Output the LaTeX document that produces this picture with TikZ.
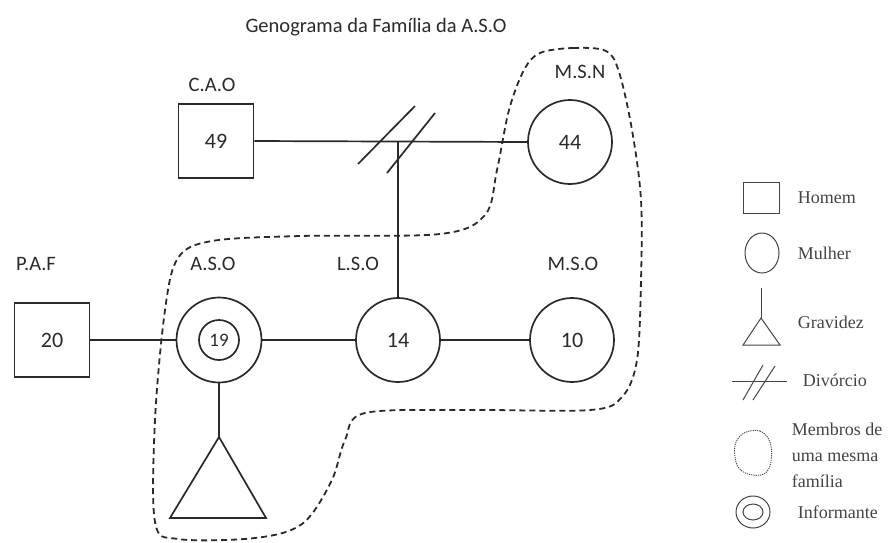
\documentclass[tikz,border=0pt]{standalone}
\usepackage{fontspec}
\setmainfont{Carlito}
\newfontfamily\legfont{Liberation Serif}
\usetikzlibrary{shapes.geometric}
\definecolor{ink}{HTML}{2A2A2A}
\definecolor{leg}{HTML}{444444}
\begin{document}
\begin{tikzpicture}[x=1pt,y=-1pt,line width=1.7pt,
  lbl/.style={text=ink,font=\fontsize{20.5}{24}\selectfont},
  num/.style={text=ink,font=\fontsize{22}{24}\selectfont},
  man/.style={draw=ink,line width=1.7pt,minimum width=75pt,minimum height=74pt,inner sep=0pt},
  woman/.style={circle,draw=ink,line width=1.7pt,minimum size=84pt,inner sep=0pt},
  conn/.style={draw=ink,line width=1.7pt},
  blob/.style={draw=ink,line width=1.8pt,dash pattern=on 6pt off 4pt},
  legtxt/.style={text=leg,font=\legfont\fontsize{18}{22}\selectfont,anchor=west,inner sep=0pt},
  legline/.style={draw=leg,line width=1pt}]
\useasboundingbox (0,0) rectangle (888,542);
% title
\node[lbl] (title) at (376,27) {Genograma da Família da A.S.O};
% top generation
\node[man,num] (cao) at (216,141) {49};
\node[woman,num] (msn) at (570,142) {44};
\node[lbl] (caol) at (212,85) {C.A.O};
\node[lbl] (msnl) at (580,72) {M.S.N};
\draw[conn] (cao.east) -- (msn.west);
\coordinate (div) at (398,142);
\coordinate (s1a) at (358,164); \coordinate (s1b) at (415,106);
\coordinate (s2a) at (387,173); \coordinate (s2b) at (435,113);
\draw[conn] (s1a) -- (s1b);
\draw[conn] (s2a) -- (s2b);
% second row
\node[man,num] (paf) at (52,340) {20};
\node[woman,minimum size=85pt] (aso) at (219,340) {};
\node[circle,draw=ink,line width=1.7pt,minimum size=40pt,inner sep=0pt,text=ink,font=\fontsize{19}{22}\selectfont] (asoi) at (219,340) {19};
\node[woman,num] (lso) at (398,340) {14};
\node[woman,num] (mso) at (572,340) {10};
\node[lbl] (pafl) at (36,264) {P.A.F};
\node[lbl] (asol) at (213,264) {A.S.O};
\node[lbl] (lsol) at (358,264) {L.S.O};
\node[lbl] (msol) at (573,264) {M.S.O};
\draw[conn] (div) -- (lso.north);
\draw[conn] (paf.east) -- (aso.west);
\draw[conn] (aso.east) -- (lso.west);
\draw[conn] (lso.east) -- (mso.west);
% pregnancy
\coordinate (apex) at (219,437);
\coordinate (tbl) at (170,518);
\coordinate (tbr) at (266,518);
\draw[conn] (aso.south) -- (apex);
\draw[conn,line join=miter] (apex) -- (tbl) -- (tbr) -- cycle;
% family boundary
\draw[blob] plot[smooth cycle,tension=0.55] coordinates {
 (540,53) (573,48) (606,51) (619,72) (632,130) (641,200) (641,280) (637,360)
 (622,397) (590,410) (470,410) (365,413) (345,440) (331,482) (302,524) (255,538)
 (178,539) (155,522) (155,420) (165,310) (178,258) (212,241) (300,236) (440,234)
 (485,215) (497,170) (509,110) (524,70)};
% legend
\node[draw=leg,line width=1pt,minimum width=36pt,minimum height=31pt,inner sep=0pt] (lhom) at (761,198) {};
\node[legtxt] (thom) at (797,198) {Homem};
\node[ellipse,draw=leg,line width=1pt,minimum width=34pt,minimum height=40pt,inner sep=0pt] (lmul) at (762,253) {};
\node[legtxt] (tmul) at (797,253) {Mulher};
\coordinate (gtop) at (761,288);
\coordinate (gapex) at (761,318);
\coordinate (gbl) at (743,345);
\coordinate (gbr) at (780,345);
\draw[legline] (gtop) -- (gapex);
\draw[legline,line join=miter] (gapex) -- (gbl) -- (gbr) -- cycle;
\node[legtxt] (tgra) at (797,322) {Gravidez};
\coordinate (dl) at (732,381); \coordinate (dr) at (787,381);
\coordinate (d1a) at (743,400); \coordinate (d1b) at (763,365);
\coordinate (d2a) at (753,400); \coordinate (d2b) at (775,366);
\draw[legline] (dl) -- (dr);
\draw[legline] (d1a) -- (d1b);
\draw[legline] (d2a) -- (d2b);
\node[legtxt] (tdiv) at (802,380) {Divórcio};
\draw[draw=leg,line width=0.9pt,dash pattern=on 1.2pt off 1pt] plot[smooth cycle,tension=0.6] coordinates {
 (744,433) (760,431) (770,442) (771,462) (764,474) (748,474) (737,465) (735,445)};
\node[legtxt,align=left,font=\legfont\fontsize{18}{26}\selectfont,anchor=north west] (tmem) at (791,422) {Membros de\\uma mesma\\família};
\node[ellipse,draw=leg,line width=1pt,minimum width=34pt,minimum height=32pt,inner sep=0pt] (linf) at (753,512) {};
\node[ellipse,draw=leg,line width=1pt,minimum width=20pt,minimum height=16pt,inner sep=0pt] (linfi) at (753,512) {};
\node[legtxt] (tinf) at (797,512) {Informante};
\end{tikzpicture}
\end{document}
